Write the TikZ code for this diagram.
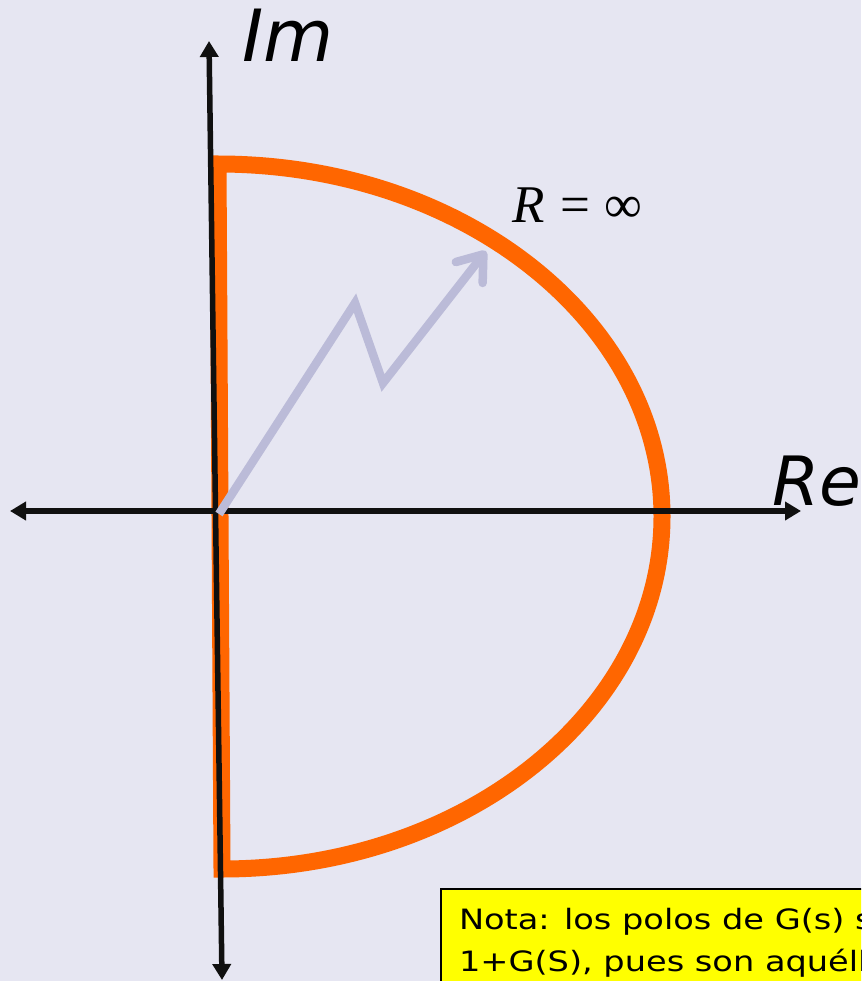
\documentclass[tikz,border=0pt]{standalone}
\usepackage{fontspec}
\usetikzlibrary{arrows.meta}
\newfontfamily\axisfont{DejaVu Sans}
\newfontfamily\notefont[FakeStretch=1.2]{DejaVu Sans}
\newfontfamily\radfont{Liberation Serif}
\definecolor{zbg}{RGB}{230,230,242}
\definecolor{zorange}{RGB}{255,102,0}
\definecolor{zlav}{RGB}{187,187,216}
\definecolor{znote}{RGB}{255,255,0}
\definecolor{zink}{RGB}{16,16,16}

\begin{document}
\begin{tikzpicture}[x=1pt, y=-1pt,
  axis/.style={line width=5.5pt, zink,
               {Triangle[length=16pt,width=18pt]}-{Triangle[length=16pt,width=18pt]}},
  contour/.style={line width=17pt, zorange, line join=miter},
  ray/.style={line width=8.5pt, zlav, -{Straight Barb[length=23pt,width=34pt,round]}},
  axislabel/.style={inner sep=0pt, anchor=base west,
                    font=\axisfont\itshape\fontsize{72}{72}\selectfont},
  notebox/.style={rectangle, draw=black, line width=2pt, fill=znote,
                  anchor=north west, align=left, inner xsep=18pt, inner ysep=19pt,
                  font=\notefont\fontsize{28}{42}\selectfont}
]

\useasboundingbox (0,0) rectangle (861,981);
\fill[zbg] (0,0) rectangle (861,981);
\clip (0,0) rectangle (861,981);

% s-plane axes
\coordinate (imtop) at (209,41);
\coordinate (imbot) at (222,980);
\coordinate (relft) at (10,511);
\coordinate (rergt) at (801,511);

% Nyquist contour
\draw[contour] (218,164)
  arc[start angle=-90, end angle=0, x radius=444, y radius=352.5]
  arc[start angle=0, end angle=90, x radius=440, y radius=352.5] -- cycle;

\draw[axis] (imbot) -- (imtop);
\draw[axis] (relft) -- (rergt);

% radius sketch
\coordinate (orig) at (219,514);
\coordinate (zig1) at (355,303);
\coordinate (zig2) at (383,383);
\coordinate (rtip) at (486,251);
\draw[ray] (orig) -- (zig1) -- (zig2) -- (rtip);

\node[axislabel] (imlab) at (242,62) {Im};
\node[axislabel, font=\axisfont\itshape\fontsize{68}{68}\selectfont]
  (relab) at (772,505) {Re};
\node[inner sep=0pt, anchor=base west, font=\radfont\fontsize{53}{53}\selectfont]
  (rlab) at (512,223) {\textit{R}\hspace{0.3em}=\hspace{0.26em}∞};

\node[notebox] (nota) at (440,888)
  {Nota: los polos de G(s) son\\1+G(S), pues son aquéllos};

\end{tikzpicture}
\end{document}
